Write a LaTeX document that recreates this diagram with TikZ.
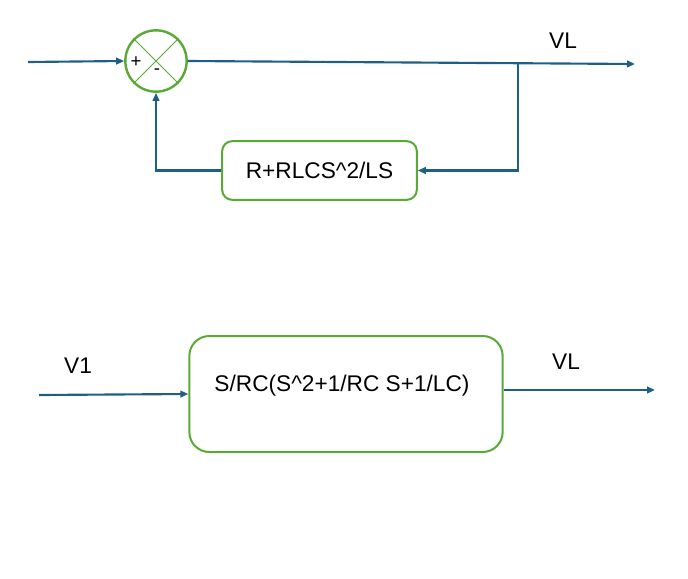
\documentclass[tikz,border=0pt]{standalone}
\usepackage{fontspec}
\setmainfont{Liberation Sans}
\usetikzlibrary{arrows.meta,calc,positioning}

\definecolor{r31g95b135}{RGB}{31,95,135}
\definecolor{r88g170b52}{RGB}{88,170,52}

\tikzset{
	wire/.style={line width=1.6pt,draw=r31g95b135},
	arrowwire/.style={wire,-{Triangle[length=6pt,width=5pt]}},
	block/.style={draw=r88g170b52,line width=1.5pt,rounded corners=7.5pt,inner sep=0pt},
	sumjunction/.style={draw=r88g170b52,line width=1.8pt,circle,minimum size=46pt,inner sep=0pt},
	sign/.style={inner sep=0pt,font=\fontsize{14}{16}\selectfont}
}

\begin{document}
\begin{tikzpicture}[x=0.75pt,y=-0.75pt]
	% \clip (0,0) rectangle (688,578);
	\useasboundingbox (0,0) rectangle (688,578);
	{\fontsize{17}{20}\selectfont

	% Feedback loop
	\node [sumjunction] (sum) at (156,61) {};
	\draw [draw=r88g170b52,line width=0.6pt] (sum.north west) -- (sum.south east);
	\draw [draw=r88g170b52,line width=0.6pt] (sum.north east) -- (sum.south west);
	\node [sign] (plus) at (136,62) {+};
	\node [sign] (minus) at (157,72) {-};

	\node [block,minimum width=146pt,minimum height=44pt] (fb) at (319.5,170.5) {R+RLCS\^{}2/LS};

	\coordinate (inStart) at (28,62);
	\coordinate (vlEnd) at (635,64);
	\coordinate (branch) at (518,63);
	\node (vlTop) at (563,41) {VL};

	\draw [arrowwire] (inStart) -- (sum.west);
	\draw [arrowwire] (sum.east) -- (vlEnd);
	\draw [arrowwire] (branch) |- (fb.east);
	\draw [arrowwire] (fb.west) -| (sum.south);

	% Transfer function
	\node [block,rounded corners=15pt,minimum width=235pt,minimum height=87pt] (tf) at (346,394) {};
	\node (tfText) at (342,386) {S/RC(S\^{}2+1/RC S+1/LC)};

	\coordinate (v1Start) at (39,395);
	\coordinate (vlOut) at (655,390);
	\node (v1) at (78,366) {V1};
	\node (vlBottom) at (566,362) {VL};

	\draw [arrowwire] (v1Start) -- (tf.west);
	\draw [arrowwire] (vlOut -| tf.east) -- (vlOut);
	}
\end{tikzpicture}
\end{document}
